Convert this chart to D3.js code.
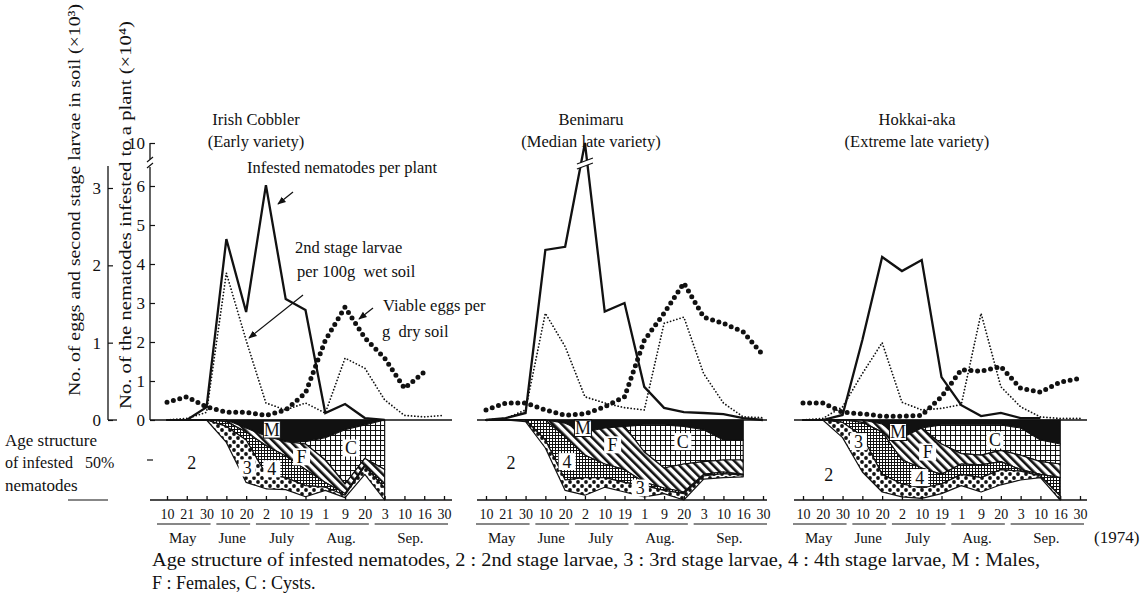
<!DOCTYPE html>
<html>
<head>
<meta charset="utf-8">
<script src="https://cdn.jsdelivr.net/npm/d3@7"></script>
<style>
  body { margin: 0; background: #fff; }
  svg { display: block; }
  text { font-family: "Liberation Serif", "DejaVu Serif", serif; fill: #111; }
</style>
</head>
<body>
<svg id="chart" width="1148" height="594"></svg>
<script>
// ---------------- data ----------------
const varieties = ["Irish Cobbler", "Benimaru", "Hokkai-aka"];
const varietyNotes = ["(Early variety)", "(Median late variety)", "(Extreme late variety)"];

// sampling dates (day of month), one list per variety
const datesIrish    = ["10","21","30","10","20","2","10","19","1","9","20","3","10","16","30"];
const datesBenimaru = ["10","21","30","10","20","2","10","19","1","9","20","3","10","16","30"];
const datesHokkai   = ["10","20","30","10","20","2","10","19","1","9","20","3","10","16","30"];
const monthNames = ["May", "June", "July", "Aug.", "Sep."];
const monthFirst = [0, 3, 5, 8, 11];   // first sampling index in each month
const monthLast  = [2, 4, 7, 10, 14];  // last sampling index in each month

// infested nematodes per plant (x10^4)
const plantIrish    = [null, 0, 0.33, 4.64, 2.77, 6.08, 3.10, 2.82, 0.18, 0.41, 0.05, 0, null, null, null];
const plantBenimaru = [0, 0.05, 0.18, 4.36, 4.44, 10, 2.78, 3.0, 0.85, 0.31, 0.2, 0.18, 0.15, 0.05, 0];
const plantHokkai   = [null, 0, 0.13, 2.05, 4.18, 3.82, 4.1, 1.1, 0.38, 0.1, 0.18, 0.05, 0.05, null, null];

// 2nd stage larvae per 100 g wet soil (x10^3)
const larvaeIrish    = [0, 0.02, 0.1, 1.9, 1.03, 0.22, 0.13, 0.22, 0.09, 0.8, 0.67, 0.26, 0.06, 0.04, 0.06];
const larvaeBenimaru = [0, 0.02, 0.13, 1.38, 0.95, 0.3, 0.22, 0.16, 0.13, 1.25, 1.33, 0.6, 0.22, 0.04, 0.03];
const larvaeHokkai   = [0, 0.02, 0.17, 0.6, 1.0, 0.23, 0.13, 0.15, 0.2, 1.38, 0.43, 0.17, 0.04, 0.02, 0.02];

// viable eggs per g dry soil (x10^3)
const eggsIrish    = [0.23, 0.3, 0.17, 0.1, 0.1, 0.06, 0.13, 0.35, 1.03, 1.46, 1.06, 0.8, 0.41, 0.62, null];
const eggsBenimaru = [0.13, 0.22, 0.22, 0.13, 0.06, 0.08, 0.17, 0.3, 1.03, 1.38, 1.77, 1.33, 1.25, 1.14, 0.84];
const eggsHokkai   = [0.22, 0.22, 0.1, 0.08, 0.05, 0.05, 0.06, 0.3, 0.65, 0.63, 0.69, 0.41, 0.36, 0.49, 0.54];

// age structure of infested nematodes (% of total), stacked from the top
const stageKeys = ["M", "C", "F", "S4", "S3", "S2"];
const irishM  = [0, 0, 0, 0, 10, 20, 27, 27, 22, 12, 6, 0, null, null, null];
const irishC  = [0, 0, 0, 0, 0, 0, 0, 3, 28, 68, 42, 62, null, null, null];
const irishF  = [0, 0, 0, 2, 5, 12, 18, 32, 28, 12, 8, 18, null, null, null];
const irishS4 = [0, 0, 0, 6, 10, 36, 27, 20, 6, 2, 2, 5, null, null, null];
const irishS3 = [0, 0, 0, 20, 53, 18, 15, 14, 4, 3, 10, 15, null, null, null];
const irishS2 = [100, 100, 100, 72, 22, 14, 13, 4, 12, 3, 32, 0, null, null, null];

const beniM  = [0, 0, 0, 0, 4, 15, 10, 8, 6, 6, 8, 12, 25, 25, null];
const beniC  = [0, 0, 0, 0, 0, 0, 0, 0, 34, 54, 47, 40, 25, 25, null];
const beniF  = [0, 0, 0, 0, 17, 29, 45, 54, 38, 25, 35, 16, 15, 18, null];
const beniS4 = [0, 0, 0, 25, 54, 28, 17, 16, 4, 3, 2, 2, 2, 1, null];
const beniS3 = [0, 0, 2, 10, 13, 22, 12, 12, 14, 4, 8, 4, 5, 2, null];
const beniS2 = [100, 100, 98, 65, 12, 6, 16, 10, 4, 8, 0, 26, 28, 29, null];

const hokM  = [0, 0, 0, 0, 5, 22, 10, 6, 6, 6, 6, 10, 25, 30, null];
const hokC  = [0, 0, 0, 0, 0, 0, 0, 24, 36, 38, 32, 34, 27, 25, null];
const hokF  = [0, 0, 0, 3, 10, 28, 50, 38, 13, 12, 14, 18, 16, 17, null];
const hokS4 = [0, 0, 3, 17, 53, 30, 25, 12, 13, 16, 10, 2, 2, 23, null];
const hokS3 = [0, 0, 19, 45, 22, 16, 13, 12, 14, 18, 19, 11, 2, 5, null];
const hokS2 = [100, 100, 78, 35, 10, 4, 2, 8, 18, 10, 19, 25, 28, 0, null];

// ---------------- layout ----------------
const svg = d3.select("#chart");
const base = 420, bottom = 500;
const ySoil  = d3.scaleLinear().domain([0, 3]).range([base, 188]);
const yPlant = d3.scaleLinear().domain([0, 6, 10]).range([base, 186, 143]);
const yAge   = d3.scaleLinear().domain([0, 100]).range([base, bottom]);
const plantBreak = 6.5;   // values above this sit past the axis break

const frames = [
  { left: 150, right: 452, first: 167, title: 256 },
  { left: 477, right: 767, first: 486, title: 591 },
  { left: 794, right: 1087, first: 803, title: 917 }
];
const span = 277;

const panels = [
  { dates: datesIrish, plant: plantIrish, larvae: larvaeIrish, eggs: eggsIrish,
    age: [irishM, irishC, irishF, irishS4, irishS3, irishS2],
    tags: [["M", 5.3, 12, true], ["F", 6.8, 46], ["C", 9.3, 35], ["3", 4.05, 60], ["4", 5.3, 61], ["2", 1.25, 54, false, true]] },
  { dates: datesBenimaru, plant: plantBenimaru, larvae: larvaeBenimaru, eggs: eggsBenimaru,
    age: [beniM, beniC, beniF, beniS4, beniS3, beniS2],
    tags: [["M", 4.9, 10, true], ["F", 6.4, 31], ["C", 9.95, 27], ["3", 7.8, 85], ["4", 4.1, 52], ["2", 1.26, 54, false, true]] },
  { dates: datesHokkai, plant: plantHokkai, larvae: larvaeHokkai, eggs: eggsHokkai,
    age: [hokM, hokC, hokF, hokS4, hokS3, hokS2],
    tags: [["M", 4.8, 15, true], ["F", 6.3, 40], ["C", 9.7, 25], ["3", 2.8, 27], ["4", 5.9, 72], ["2", 1.3, 69, false, true]] }
];

// ---------------- fill patterns ----------------
const defs = svg.append("defs");
function pattern(id, w, h, build, transform) {
  const p = defs.append("pattern").attr("id", id).attr("patternUnits", "userSpaceOnUse")
    .attr("width", w).attr("height", h);
  if (transform) p.attr("patternTransform", transform);
  p.append("rect").attr("width", w).attr("height", h).attr("fill", "#fff");
  build(p);
}
pattern("pGrid", 5, 5, p => p.append("path").attr("d", "M0,0.5H5M0.5,0V5")
  .attr("stroke", "#111").attr("stroke-width", 1.1));
pattern("pHatch", 6, 6, p => p.append("rect").attr("width", 2.6).attr("height", 6).attr("fill", "#111"),
  "rotate(-45)");
pattern("pFine", 3, 3, p => p.append("path").attr("d", "M0,0.5H3M0.5,0V3")
  .attr("stroke", "#111").attr("stroke-width", 1));
pattern("pDots", 8, 8, p => {
  p.append("circle").attr("cx", 2).attr("cy", 2).attr("r", 1.9).attr("fill", "#111");
  p.append("circle").attr("cx", 6).attr("cy", 6).attr("r", 1.9).attr("fill", "#111");
});
const stageFill = { M: "#111", C: "url(#pGrid)", F: "url(#pHatch)", S4: "url(#pFine)", S3: "url(#pDots)", S2: "none" };

defs.append("marker").attr("id", "arrow").attr("viewBox", "0 0 10 10").attr("refX", 9).attr("refY", 5)
  .attr("markerWidth", 7).attr("markerHeight", 7).attr("orient", "auto-start-reverse")
  .append("path").attr("d", "M0,1L10,5L0,9z").attr("fill", "#111");

// ---------------- left axes ----------------
const axSoil = d3.axisLeft(ySoil).tickValues([0, 1, 2, 3]).tickFormat(d3.format("d"))
  .tickSize(-5).tickSizeOuter(0).tickPadding(7);
const gSoil = svg.append("g").attr("transform", "translate(108,0)").call(axSoil);
gSoil.select(".domain").remove();
gSoil.append("line").attr("x1", 0).attr("x2", 0).attr("y1", 166).attr("y2", base).attr("stroke", "#111").attr("stroke-width", 1.3);
gSoil.append("line").attr("x1", 0).attr("x2", 9).attr("y1", base).attr("y2", base).attr("stroke", "#111").attr("stroke-width", 1.3);

const axPlant = d3.axisLeft(yPlant).tickValues([0, 1, 2, 3, 4, 5, 6, 10]).tickFormat(d3.format("d"))
  .tickSize(-5).tickSizeOuter(0).tickPadding(5);
const gPlant = svg.append("g").attr("transform", "translate(150,0)").call(axPlant);
gPlant.select(".domain").remove();
gPlant.append("line").attr("x1", 0).attr("x2", 0).attr("y1", 143).attr("y2", 159).attr("stroke", "#111").attr("stroke-width", 1.3);
gPlant.append("line").attr("x1", 0).attr("x2", 0).attr("y1", 167).attr("y2", base).attr("stroke", "#111").attr("stroke-width", 1.3);
gPlant.append("path").attr("d", "M-3,162L3,157M-3,168L3,163").attr("stroke", "#111").attr("stroke-width", 1.2);
[gSoil, gPlant].forEach(g => {
  g.selectAll(".tick line").attr("stroke", "#111").attr("stroke-width", 1.2);
  g.selectAll(".tick text").style("font-size", "17px").attr("fill", "#111");
});

// axis titles
svg.append("text").attr("transform", "translate(80,200) rotate(-90)").attr("text-anchor", "middle")
  .style("font-size", "17px").attr("textLength", 392).attr("lengthAdjust", "spacingAndGlyphs")
  .text("No. of eggs and second stage larvae in soil (×10³)");
svg.append("text").attr("transform", "translate(131,215) rotate(-90)").attr("text-anchor", "middle")
  .style("font-size", "17px").attr("textLength", 388).attr("lengthAdjust", "spacingAndGlyphs")
  .text("No. of the nematodes infested to a plant (×10⁴)");

// lower-part legend on the left
[["Age structure", 5, 446, 17], ["of infested", 5, 468, 16], ["50%", 85, 468, 16], ["nematodes", 5, 491, 17]]
  .forEach(([t, x, y, fs]) => svg.append("text").attr("x", x).attr("y", y).style("font-size", fs + "px").text(t));
svg.append("line").attr("x1", 68).attr("x2", 108).attr("y1", bottom).attr("y2", bottom).attr("stroke", "#111").attr("stroke-width", 1.2);
svg.append("line").attr("x1", 147).attr("x2", 153).attr("y1", yAge(50)).attr("y2", yAge(50)).attr("stroke", "#111").attr("stroke-width", 1.2);

// ---------------- panels ----------------
panels.forEach((pd, k) => {
  const fr = frames[k];
  const x = d3.scaleLinear().domain([0, 14]).range([fr.first, fr.first + span]);
  const g = svg.append("g");

  // title
  g.append("text").attr("x", fr.title).attr("y", 125).attr("text-anchor", "middle").style("font-size", "16.5px").text(varieties[k]);
  g.append("text").attr("x", fr.title).attr("y", 147).attr("text-anchor", "middle").style("font-size", "16.5px").text(varietyNotes[k]);

  // age structure stack
  const rows = d3.range(15).filter(i => pd.age[0][i] !== null).map(i => {
    const r = { i };
    stageKeys.forEach((s, j) => r[s] = pd.age[j][i]);
    return r;
  });
  const stack = d3.stack().keys(stageKeys)(rows);
  const area = d3.area().x(d => x(d.data.i)).y0(d => yAge(d[0])).y1(d => yAge(d[1]));
  g.selectAll("path.stage").data(stack.filter(s => s.key !== "S2")).join("path")
    .attr("class", "stage").attr("d", area).attr("fill", s => stageFill[s.key])
    .attr("stroke", "#111").attr("stroke-width", 1.2).attr("stroke-linejoin", "round");

  // stage tags
  pd.tags.forEach(([t, xi, pc, boxed, plain]) => {
    const tx = x(xi), ty = yAge(pc);
    if (!plain) {
      g.append("rect").attr("x", tx - 8.5).attr("y", ty - 8.5).attr("width", 17).attr("height", 17)
        .attr("fill", "#fff").attr("stroke", boxed ? "#111" : "none").attr("stroke-width", 1);
    }
    g.append("text").attr("x", tx).attr("y", ty + 6).attr("text-anchor", "middle")
      .style("font-size", "18px").text(t);
  });

  // baseline and bottom axis line
  g.append("line").attr("x1", fr.left).attr("x2", fr.right).attr("y1", base).attr("y2", base)
    .attr("stroke", "#111").attr("stroke-width", 1.6);
  g.append("line").attr("x1", fr.left).attr("x2", fr.right).attr("y1", bottom).attr("y2", bottom)
    .attr("stroke", "#111").attr("stroke-width", 1.4);

  const ax = d3.axisBottom(x).tickValues(d3.range(15)).tickSize(-4).tickPadding(9)
    .tickFormat(i => pd.dates[i]);
  const ga = g.append("g").attr("transform", `translate(0,${bottom})`).call(ax);
  ga.select(".domain").remove();
  ga.selectAll(".tick line").attr("stroke", "#111").attr("stroke-width", 1.3);
  ga.selectAll(".tick text").style("font-size", "14px").attr("fill", "#111");

  // month brackets and names
  monthNames.forEach((m, j) => {
    const a = x(monthFirst[j]) - 10, b = x(monthLast[j]) + 4;
    g.append("line").attr("x1", a).attr("x2", b).attr("y1", 524).attr("y2", 524).attr("stroke", "#111").attr("stroke-width", 1.1);
    g.append("text").attr("x", (x(monthFirst[j]) + x(monthLast[j])) / 2 - 4).attr("y", 543)
      .attr("text-anchor", "middle").style("font-size", "15px").text(m);
  });

  // series lines
  const lineSoil = d3.line().defined(v => v !== null).x((v, i) => x(i)).y(v => ySoil(v));
  const linePlant = d3.line().defined(v => v !== null).x((v, i) => x(i)).y(v => yPlant(v));
  g.append("path").attr("d", lineSoil(pd.larvae)).attr("fill", "none").attr("stroke", "#111")
    .attr("stroke-width", 1.8).attr("stroke-dasharray", "0 3.3").attr("stroke-linecap", "round");
  g.append("path").attr("d", lineSoil(pd.eggs)).attr("fill", "none").attr("stroke", "#111")
    .attr("stroke-width", 5).attr("stroke-dasharray", "0 6.6").attr("stroke-linecap", "round");
  g.append("path").attr("d", linePlant(pd.plant)).attr("fill", "none").attr("stroke", "#111")
    .attr("stroke-width", 2.3).attr("stroke-linejoin", "miter");

  // break marks on peaks that run past the axis break
  pd.plant.forEach((v, i) => {
    if (v !== null && v > plantBreak) {
      const px = x(i);
      g.append("path").attr("d", `M${px - 8},${164}L${px + 8},${158}L${px + 8},${163}L${px - 8},${169}Z`)
        .attr("fill", "#fff");
      g.append("path").attr("d", `M${px - 8},${164}L${px + 8},${158}M${px - 8},${169}L${px + 8},${163}`)
        .attr("stroke", "#111").attr("stroke-width", 1.2);
    }
  });
});

// ---------------- annotations ----------------
const notes = [
  ["Infested nematodes per plant", 247, 173],
  ["2nd stage larvae", 295, 253],
  ["per 100g  wet soil", 297, 277],
  ["Viable eggs per", 383, 311],
  ["g  dry soil", 382, 337]
];
notes.forEach(([t, x, y]) => svg.append("text").attr("x", x).attr("y", y).style("font-size", "16.5px")
  .attr("xml:space", "preserve").style("white-space", "pre").text(t));
[[293, 192, 278, 204], [303, 295, 249, 338], [373, 308, 359, 319]].forEach(([x1, y1, x2, y2]) =>
  svg.append("line").attr("x1", x1).attr("y1", y1).attr("x2", x2).attr("y2", y2)
    .attr("stroke", "#111").attr("stroke-width", 1.2).attr("marker-end", "url(#arrow)"));

svg.append("text").attr("x", 1094).attr("y", 543).style("font-size", "17px").text("(1974)");

// caption
svg.append("text").attr("x", 152).attr("y", 566).style("font-size", "18px")
  .attr("textLength", 888).attr("lengthAdjust", "spacingAndGlyphs")
  .text("Age structure of infested nematodes, 2 : 2nd stage larvae, 3 : 3rd stage larvae, 4 : 4th stage larvae, M : Males,");
svg.append("text").attr("x", 152).attr("y", 589).style("font-size", "18px")
  .text("F : Females, C : Cysts.");
</script>
</body>
</html>
